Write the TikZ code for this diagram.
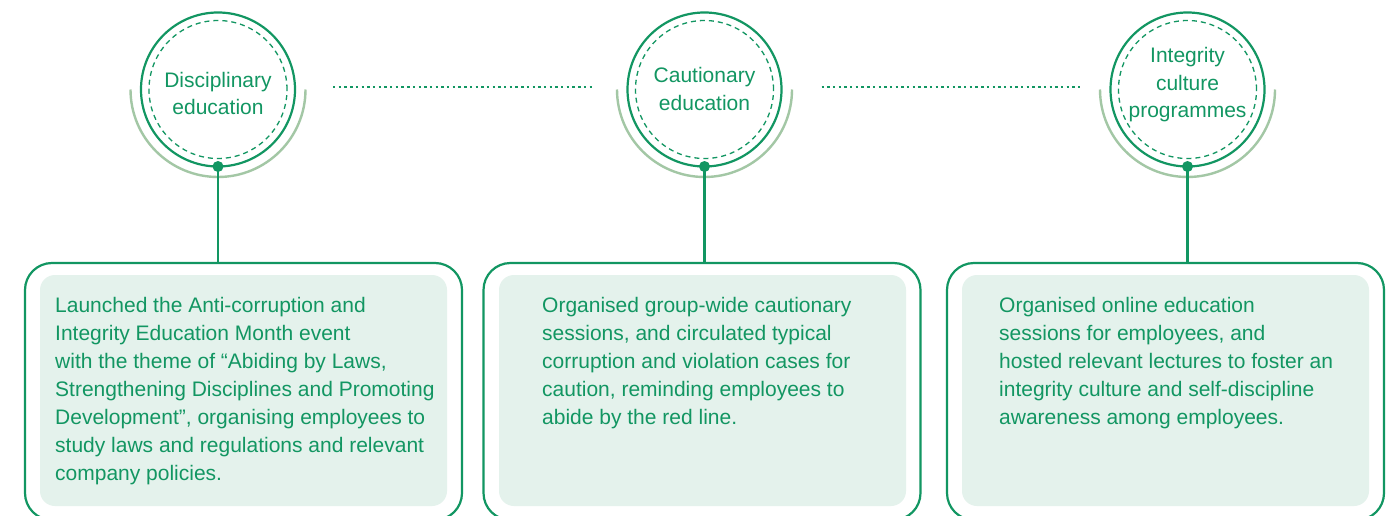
\documentclass[tikz,border=0pt]{standalone}
\usepackage{fontspec}
\setmainfont{Liberation Sans}
\definecolor{ggreen}{RGB}{18,150,98}
\definecolor{gfill}{RGB}{228,242,236}
\definecolor{garc}{RGB}{163,199,165}
\begin{document}
\begin{tikzpicture}[x=1pt,y=-1pt,
  ring/.style={circle, draw=ggreen, line width=2.2pt, minimum size=154pt, inner sep=0pt, outer sep=0pt},
  dashring/.style={circle, draw=ggreen, line width=1.3pt, dash pattern=on 5pt off 4pt, minimum size=138pt, inner sep=0pt, outer sep=0pt},
  halo/.style={draw=garc, line width=2.4pt},
  ctext/.style={anchor=north, align=center, inner sep=0pt, text=ggreen, font=\fontsize{21}{27.5}\selectfont},
  btext/.style={anchor=north west, align=left, inner sep=0pt, text=ggreen, font=\fontsize{21}{28}\selectfont},
  outerbox/.style={draw=ggreen, line width=2.2pt, rounded corners=27pt, minimum width=437pt, minimum height=257pt, inner sep=0pt, outer sep=0pt},
  innerbox/.style={fill=gfill, rounded corners=15pt, minimum width=407pt, minimum height=231pt, inner sep=0pt, outer sep=0pt},
  dotnode/.style={circle, fill=ggreen, minimum size=11pt, inner sep=0pt, outer sep=0pt},
  link/.style={draw=ggreen, line width=2.2pt},
  dotline/.style={draw=ggreen, line width=2.6pt, dash pattern=on 2.4pt off 3.3pt},
]
\useasboundingbox (0,0) rectangle (1396,516);
\fill[white] (0,0) rectangle (1396,516);
\clip (0,0) rectangle (1396,516);

% circles
\node[ring] (c1) at (218,89.5) {};
\node[dashring] (r1) at (218,89.5) {};
\node[ring] (c2) at (704.5,89.5) {};
\node[dashring] (r2) at (704.5,89.5) {};
\node[ring] (c3) at (1187.5,89.5) {};
\node[dashring] (r3) at (1187.5,89.5) {};

\draw[halo] ([xshift=-87.5pt]c1.center) arc[start angle=180, end angle=360, radius=87.5pt];
\draw[halo] ([xshift=-87.5pt]c2.center) arc[start angle=180, end angle=360, radius=87.5pt];
\draw[halo] ([xshift=-87.5pt]c3.center) arc[start angle=180, end angle=360, radius=87.5pt];

\node[ctext] (l1) at (218,67.7) {\strut Disciplinary\\education};
\node[ctext] (l2) at (704.5,63.1) {\strut Cautionary\\education};
\node[ctext] (l3) at (1187.5,43.1) {\strut Integrity\\culture\\programmes};

% dotted links
\draw[dotline] ([xshift=38pt,yshift=2.5pt]c1.east) -- ([xshift=-33pt,yshift=2.5pt]c2.west);
\draw[dotline] ([xshift=40pt,yshift=2.5pt]c2.east) -- ([xshift=-30pt,yshift=2.5pt]c3.west);

% boxes
\node[outerbox] (b1) at (243.5,391.5) {};
\node[innerbox] (f1) at (243.5,390.5) {};
\node[outerbox] (b2) at (702,391.5) {};
\node[innerbox] (f2) at (702.5,390.5) {};
\node[outerbox] (b3) at (1165.5,391.5) {};
\node[innerbox] (f3) at (1165.5,390.5) {};

% connectors
\node[dotnode] (d1) at (c1.south) {};
\node[dotnode] (d2) at (c2.south) {};
\node[dotnode] (d3) at (c3.south) {};
\draw[link] (d1.center) -- (d1.center |- b1.north);
\draw[link] (d2.center) -- (d2.center |- b2.north);
\draw[link] (d3.center) -- (d3.center |- b3.north);

% texts
\node[btext] (t1) at (55,292.9) {\strut Launched the Anti-corruption and\\Integrity Education Month event\\with the theme of “Abiding by Laws,\\Strengthening Disciplines and Promoting\\Development”, organising employees to\\study laws and regulations and relevant\\company policies.};
\node[btext] (t2) at (542,292.9) {\strut Organised group-wide cautionary\\sessions, and circulated typical\\corruption and violation cases for\\caution, reminding employees to\\abide by the red line.};
\node[btext] (t3) at (999,292.9) {\strut Organised online education\\sessions for employees, and\\hosted relevant lectures to foster an\\integrity culture and self-discipline\\awareness among employees.};
\end{tikzpicture}
\end{document}
